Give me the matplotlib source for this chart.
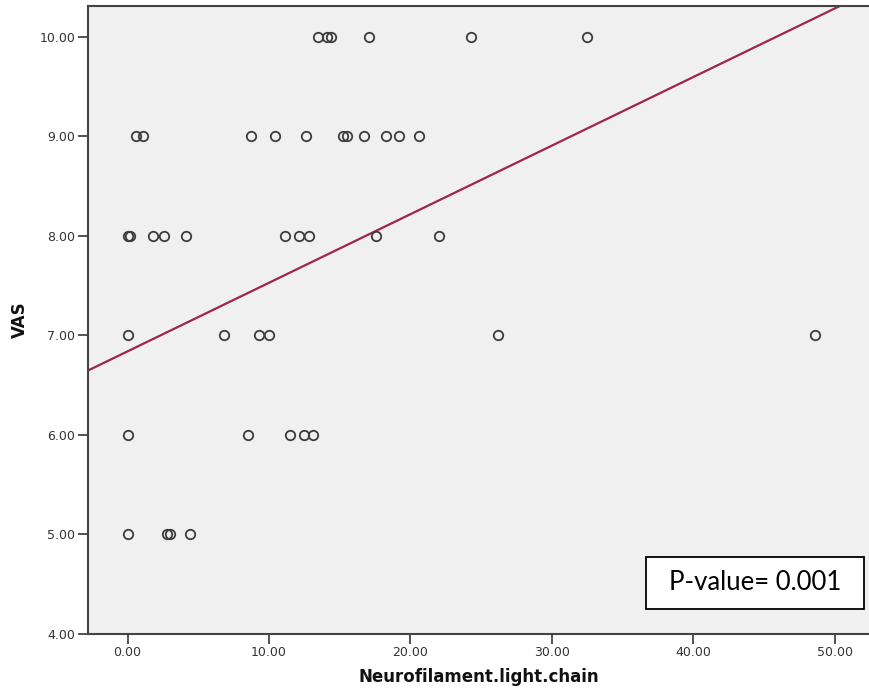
import numpy as np
import matplotlib
matplotlib.use("Agg")
import matplotlib.pyplot as plt
from matplotlib.ticker import FormatStrFormatter
from matplotlib.patches import Rectangle

# Data (Neurofilament light chain vs VAS)
nfl_vas10 = [13.5, 14.1, 14.4, 17.1, 24.3, 32.5]
nfl_vas9 = [0.6, 1.1, 8.7, 10.4, 12.6, 15.2, 15.5, 16.7, 18.3, 19.2, 20.6]
nfl_vas8 = [0.0, 0.2, 1.8, 2.6, 4.1, 11.1, 12.1, 12.8, 17.6, 22.0]
nfl_vas7 = [0.0, 6.8, 9.3, 10.0, 26.2, 48.6]
nfl_vas6 = [0.0, 8.5, 11.5, 12.5, 13.1]
nfl_vas5 = [0.0, 2.8, 3.0, 4.4]
vas_levels = [10, 9, 8, 7, 6, 5]

# Fit line (SPSS linear fit)
fit_intercept = 6.84
fit_slope = 0.0689

x_ticks = [0, 10, 20, 30, 40, 50]
y_ticks = [4, 5, 6, 7, 8, 9, 10]
p_text = "P-value= 0.001"

groups = [nfl_vas10, nfl_vas9, nfl_vas8, nfl_vas7, nfl_vas6, nfl_vas5]
x = np.concatenate([np.array(g, float) for g in groups])
y = np.concatenate([np.full(len(g), v, float) for g, v in zip(groups, vas_levels)])

fig = plt.figure(figsize=(8.7, 7.0), dpi=100)
ax = fig.add_axes([0.1011, 0.0943, 0.8989, 0.8971])
ax.set_facecolor("#F0F0F0")

xmin, xmax = -2.8, 52.5
ax.set_xlim(xmin, xmax)
ax.set_ylim(4.0, 10.31)

ax.plot(x, y, linestyle="none", marker="o", markersize=6.8, markerfacecolor="none",
        markeredgecolor="#3C3C3C", markeredgewidth=1.3, zorder=3)

xl = np.array([xmin, xmax])
ax.plot(xl, fit_intercept + fit_slope * xl, color="#A0244C", linewidth=1.6, zorder=2)

ax.set_xticks(x_ticks)
ax.set_yticks(y_ticks)
ax.xaxis.set_major_formatter(FormatStrFormatter("%.2f"))
ax.yaxis.set_major_formatter(FormatStrFormatter("%.2f"))
ax.tick_params(axis="both", direction="out", length=7, width=1.3, color="#444444",
               labelsize=9, labelcolor="#333333", pad=2)
ax.tick_params(top=False, right=False)
for s in ["left", "bottom", "top"]:
    ax.spines[s].set_color("#444444")
    ax.spines[s].set_linewidth(1.5)
ax.spines["right"].set_visible(False)

ax.set_xlabel("Neurofilament.light.chain", fontsize=12, fontweight="bold", color="#111111", labelpad=6)
ax.set_ylabel("VAS", fontsize=12, fontweight="bold", color="#111111", labelpad=8)

ax.add_patch(Rectangle((0.7136, 0.0398), 0.2787, 0.0828, transform=ax.transAxes,
                       facecolor="white", edgecolor="black", linewidth=1.3, zorder=5))
ax.text(0.853, 0.0812, p_text, transform=ax.transAxes, ha="center", va="center",
        fontsize=18.5, family="Lato", color="black", zorder=6)

fig.savefig("out.png", dpi=100)
